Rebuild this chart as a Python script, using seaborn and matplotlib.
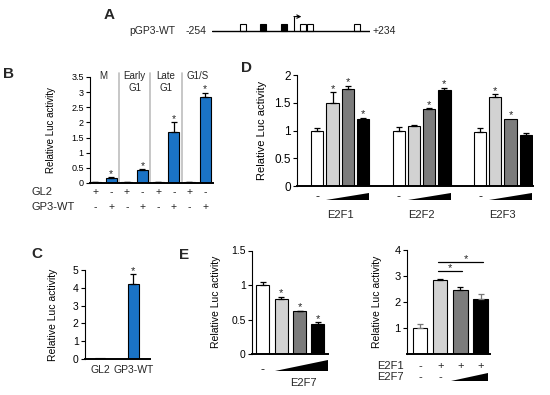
import numpy as np
import pandas as pd
import matplotlib
matplotlib.use("Agg")
import matplotlib.pyplot as plt
import matplotlib.transforms as mtransforms
from matplotlib.ticker import FuncFormatter
import seaborn as sns

# ---- data ----
# A: promoter map (bp)
prom_start, prom_end = -254, 234
open_sites = [-168, 18, 38, 185]
closed_sites = [-106, -41]
site_w = 19

# B: cell cycle phases
phases = ["M", "Early\nG1", "Late\nG1", "G1/S"]
b_vals = [0.03, 0.17, 0.03, 0.42, 0.03, 1.70, 0.03, 2.85]
b_err = [0.005, 0.02, 0.005, 0.03, 0.005, 0.30, 0.005, 0.12]
b_star = [0, 1, 0, 1, 0, 1, 0, 1]
gl2_signs = ["+", "-"] * 4
gp3_signs = ["-", "+"] * 4

# C
c_labels = ["GL2", "GP3-WT"]
c_vals = [0.03, 4.2]
c_err = [0.0, 0.55]
c_star = [0, 1]

# D
d_groups = ["E2F1", "E2F2", "E2F3"]
d_doses = ["0", "low", "mid", "high"]
d_vals = [[1.00, 1.50, 1.75, 1.21], [1.00, 1.08, 1.38, 1.73], [0.98, 1.60, 1.21, 0.92]]
d_err = [[0.04, 0.19, 0.05, 0.02], [0.06, 0.02, 0.02, 0.04], [0.06, 0.05, 0.0, 0.04]]
d_star = [[0, 1, 1, 1], [0, 0, 1, 1], [0, 1, 1, 0]]

# E left (E2F7 dose)
e7_vals = [1.0, 0.80, 0.62, 0.44]
e7_err = [0.05, 0.03, 0.01, 0.02]
e7_star = [0, 1, 1, 1]

# E right (E2F1 + E2F7)
er_vals = [1.0, 2.83, 2.45, 2.10]
er_err = [0.15, 0.06, 0.12, 0.20]
er_ecol = ["#777777", "black", "black", "#777777"]
er_e2f1 = ["-", "+", "+", "+"]
er_e2f7 = ["-", "-"]

shades = ["white", "#d2d2d2", "#7c7c7c", "black"]
blue = "#1a73c6"

W, H = 550, 395
sns.set_theme(style="ticks")
plt.rcParams["font.family"] = ["Liberation Sans Narrow", "Liberation Sans", "DejaVu Sans"]
fig = plt.figure(figsize=(W / 100, H / 100), dpi=100)


def add_ax(x0, y0, x1, y1):
    return fig.add_axes([x0 / W, 1 - y1 / H, (x1 - x0) / W, (y1 - y0) / H])


def style(ax, ylim, yticks, fs, lab_x, lab_fs):
    ax.set_ylim(*ylim)
    ax.set_yticks(yticks)
    ax.yaxis.set_major_formatter(FuncFormatter(lambda v, p: f"{v:g}"))
    ax.tick_params(axis="y", length=3, width=0.8, labelsize=fs, pad=1.5, colors="black")
    ax.tick_params(axis="x", length=0, labelbottom=False)
    ax.set_xlabel("")
    ax.set_ylabel("Relative Luc activity", fontsize=lab_fs, color="black")
    ax.yaxis.set_label_coords(lab_x, 0.5)
    sns.despine(ax=ax)
    ax.spines["left"].set_linewidth(0.8)
    ax.spines["bottom"].set_linewidth(1.4)
    ax.spines["left"].set_color("black")
    ax.spines["bottom"].set_color("black")


def centers(ax):
    ps = sorted(ax.patches, key=lambda p: p.get_x())
    return ps, np.array([p.get_x() + p.get_width() / 2 for p in ps])


def errs(ax, xs, vals, err, ecol="black"):
    vals = np.asarray(vals)
    err = np.asarray(err)
    cols = ecol if isinstance(ecol, list) else [ecol] * len(xs)
    for x, v, e, c in zip(xs, vals, err, cols):
        if e > 0:
            ax.errorbar([x], [v], yerr=[[0], [e]], fmt="none", ecolor=c,
                        elinewidth=0.9, capsize=2.5, capthick=0.9)


def stars(ax, xs, tops, flags, fs=8):
    for x, t, f in zip(xs, tops, flags):
        if f:
            ax.annotate("*", (x, t), xytext=(0, -1), textcoords="offset points",
                        ha="center", va="bottom", fontsize=fs)


def wedge(ax, x0, x1, yb, yt):
    tr = mtransforms.blended_transform_factory(ax.transData, ax.transAxes)
    ax.fill([x0, x1, x1], [yb, yb, yt], color="black", transform=tr, clip_on=False, lw=0)


def row_text(ax, xs, labels, y, fs=8):
    tr = mtransforms.blended_transform_factory(ax.transData, ax.transAxes)
    for x, s in zip(xs, labels):
        ax.text(x, y, s, transform=tr, ha="center", va="center", fontsize=fs)


# ---- panel letters ----
for lab, (x, y) in {"A": (109, 15), "B": (8, 74), "C": (37, 254), "D": (246, 68), "E": (184, 255)}.items():
    fig.text(x / W, 1 - y / H, lab, fontsize=11, fontweight="bold", ha="center", va="center",
             family=["Liberation Sans", "DejaVu Sans"])

# ---- A: promoter diagram ----
axa = add_ax(212, 10, 370, 40)
axa.set_xlim(prom_start, prom_end)
axa.set_ylim(0, 1)
axa.axis("off")
axa.plot([prom_start, prom_end], [0.3, 0.3], color="black", lw=1)
for s in open_sites:
    axa.add_patch(plt.Rectangle((s, 0.3), site_w, 0.25, facecolor="white", edgecolor="black", lw=0.8))
for s in closed_sites:
    axa.add_patch(plt.Rectangle((s, 0.3), site_w, 0.25, facecolor="black", edgecolor="black", lw=0.8))
axa.plot([0, 0], [0.3, 0.78], color="black", lw=0.8)
axa.annotate("", xy=(22, 0.78), xytext=(-1, 0.78),
             arrowprops=dict(arrowstyle="->", lw=0.8, color="black", shrinkA=0, shrinkB=0,
                             mutation_scale=6))
axa.text(-368, 0.3, "pGP3-WT", ha="right", va="center", fontsize=7.5)
axa.text(-270, 0.3, "-254", ha="right", va="center", fontsize=7.5)
axa.text(243, 0.3, "+234", ha="left", va="center", fontsize=7.5)

# ---- B ----
axb = add_ax(90, 77, 213, 183)
df_b = pd.DataFrame({"slot": np.arange(8), "val": b_vals})
sns.barplot(data=df_b, x="slot", y="val", color=blue, saturation=1, edgecolor="black",
            linewidth=0.8, width=0.7, errorbar=None, ax=axb)
style(axb, (0, 3.5), np.arange(0, 3.6, 0.5), 6.5, -0.28, 7)
axb.set_xlim(-0.35, 7.5)
_, xb = centers(axb)
errs(axb, xb, b_vals, b_err)
stars(axb, xb, np.array(b_vals) + np.array(b_err), b_star, fs=7.5)
for sep in [1.5, 3.5, 5.5]:
    axb.axvline(sep, ymax=1.04, color="#bdbdbd", lw=1.2, clip_on=False)
for i, ph in enumerate(phases):
    axb.text(2 * i + 0.5, 3.7, ph, ha="center", va="top", fontsize=7, linespacing=1.25)
row_text(axb, xb, gl2_signs, -0.085, fs=7.5)
row_text(axb, xb, gp3_signs, -0.225, fs=7.5)
fig.text(32 / W, 1 - 192 / H, "GL2", ha="left", va="center", fontsize=8)
fig.text(32 / W, 1 - 207 / H, "GP3-WT", ha="left", va="center", fontsize=8)

# ---- C ----
axc = add_ax(85, 270, 150, 359)
df_c = pd.DataFrame({"lab": c_labels, "val": c_vals})
sns.barplot(data=df_c, x="lab", y="val", color=blue, saturation=1, edgecolor="black",
            linewidth=0.8, width=0.32, errorbar=None, ax=axc)
style(axc, (0, 5), np.arange(0, 6), 7.5, -0.42, 7.5)
axc.set_xlim(-0.45, 1.5)
_, xc = centers(axc)
errs(axc, xc, c_vals, c_err)
stars(axc, xc, np.array(c_vals) + np.array(c_err), c_star, fs=8)
row_text(axc, xc, c_labels, -0.12, fs=7.5)

# ---- D ----
axd = add_ax(297, 75, 533, 186)
df_d = pd.DataFrame({"group": np.repeat(d_groups, 4), "dose": d_doses * 3,
                     "val": np.ravel(d_vals)})
sns.barplot(data=df_d, x="group", y="val", hue="dose", order=d_groups, hue_order=d_doses,
            palette=shades, saturation=1, edgecolor="black", linewidth=0.8, width=0.75,
            gap=0.2, errorbar=None, legend=False, ax=axd)
style(axd, (0, 2), [0, 0.5, 1, 1.5, 2], 8.5, -0.127, 8)
axd.set_xlim(-0.53, 2.37)
pd_, xd = centers(axd)
errs(axd, xd, np.ravel(d_vals), np.ravel(d_err))
stars(axd, xd, np.ravel(d_vals) + np.ravel(d_err), np.ravel(d_star), fs=8)
for g in range(3):
    row_text(axd, [xd[4 * g]], ["-"], -0.1, fs=9)
    wedge(axd, pd_[4 * g + 1].get_x(), pd_[4 * g + 3].get_x() + pd_[4 * g + 3].get_width(),
          -0.125, -0.06)
row_text(axd, [0, 1, 2], d_groups, -0.26, fs=8)

# ---- E left ----
axe = add_ax(252, 250.5, 328, 354)
df_e = pd.DataFrame({"dose": d_doses, "val": e7_vals})
sns.barplot(data=df_e, x="dose", y="val", hue="dose", palette=shades, saturation=1,
            edgecolor="black", linewidth=0.8, width=0.71, errorbar=None, legend=False, ax=axe)
style(axe, (0, 1.5), [0, 0.5, 1, 1.5], 7.5, -0.41, 7.5)
axe.set_xlim(-0.6, 3.55)
pe, xe = centers(axe)
errs(axe, xe, e7_vals, e7_err)
stars(axe, xe, np.array(e7_vals) + np.array(e7_err), e7_star, fs=8)
row_text(axe, [xe[0]], ["-"], -0.155, fs=9)
wedge(axe, pe[1].get_x(), axe.get_xlim()[1], -0.165, -0.06)
row_text(axe, [2.2], ["E2F7"], -0.28, fs=8)

# ---- E right ----
axr = add_ax(407, 250, 490, 354)
df_r = pd.DataFrame({"cond": d_doses, "val": er_vals})
sns.barplot(data=df_r, x="cond", y="val", hue="cond", palette=shades, saturation=1,
            edgecolor="black", linewidth=0.8, width=0.72, errorbar=None, legend=False, ax=axr)
style(axr, (0, 4), [1, 2, 3, 4], 8, -0.30, 7.5)
axr.set_xlim(-0.64, 3.46)
pr, xr = centers(axr)
errs(axr, xr, er_vals, er_err, ecol=er_ecol)
axr.plot([xr[1] - 0.1, xr[2] + 0.1], [3.19, 3.19], color="black", lw=0.9, clip_on=False)
axr.plot([xr[1] - 0.1, xr[3] + 0.1], [3.54, 3.54], color="black", lw=0.9, clip_on=False)
axr.text((xr[1] + xr[2]) / 2, 3.12, "*", ha="center", va="bottom", fontsize=8)
axr.text(2.25, 3.47, "*", ha="center", va="bottom", fontsize=8)
row_text(axr, xr, er_e2f1, -0.115, fs=8)
row_text(axr, xr[:2], er_e2f7, -0.22, fs=8)
wedge(axr, pr[2].get_x() - 0.1, pr[3].get_x() + pr[3].get_width(), -0.26, -0.18)
fig.text(377 / W, 1 - 366 / H, "E2F1", ha="left", va="center", fontsize=8)
fig.text(377 / W, 1 - 377 / H, "E2F7", ha="left", va="center", fontsize=8)

fig.savefig("out.png", dpi=100, facecolor="white")
